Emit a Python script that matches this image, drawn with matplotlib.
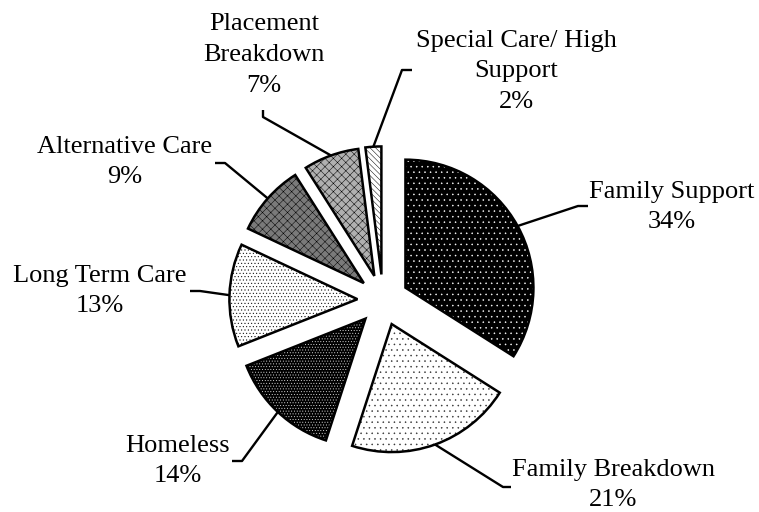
import numpy as np
import matplotlib.pyplot as plt
from matplotlib.patches import Wedge

# данные диаграммы
labels = ['Family Support', 'Family Breakdown', 'Homeless', 'Long Term Care',
          'Alternative Care', 'Placement\nBreakdown', 'Special Care/ High\nSupport']
shares = [34, 21, 14, 13, 9, 7, 2]

# оформление секторов: заливка, цвет штриховки, штриховка
faces = ['black', 'white', 'black', 'white', '#7a7a7a', '#b0b0b0', 'white']
hatch_cols = ['white', '#333333', '#dddddd', 'black', 'black', 'black', 'black']
hatches = ['...', '...', '......', '.....', 'xxxx', 'xxxx', '\\\\\\\\\\\\']

# положения подписей в пикселях (центр текста, излом, конец выноски)
PX_C, PY_C, R_PX = 383, 300, 128
text_pos = [(672, 207), (613, 485), (178, 461), (100, 291), (125, 162), (264, 55), (516, 71)]
elbows = [(578, 206), (503, 487), (242, 461), (200, 291), (225, 163), (263, 117), (402, 70)]
ends = [(588, 206), (511, 487), (232, 461), (190, 291), (215, 163), (263, 110), (412, 70)]

plt.rcParams['hatch.linewidth'] = 0.35


def to_data(p):
    return (p[0] - PX_C) / R_PX, (PY_C - p[1]) / R_PX


fig = plt.figure(figsize=(7.59, 5.12), dpi=100)
ax = fig.add_axes([0, 0, 1, 1])

wedges, _ = ax.pie(shares, startangle=90, counterclock=False, explode=[0.2] * len(shares),
                   colors=faces, wedgeprops=dict(linewidth=0))

for i, w in enumerate(wedges):
    c, r, t1, t2 = w.center, w.r, w.theta1, w.theta2
    ax.add_patch(Wedge(c, r, t1, t2, facecolor='none', edgecolor=hatch_cols[i],
                       linewidth=0, hatch=hatches[i], zorder=2))
    ax.add_patch(Wedge(c, r, t1, t2, facecolor='none', edgecolor='black',
                       linewidth=1.8, zorder=3))
    mid = np.deg2rad((t1 + t2) / 2)
    start = (c[0] + r * np.cos(mid), c[1] + r * np.sin(mid))
    e1, e2 = to_data(elbows[i]), to_data(ends[i])
    ax.plot([start[0], e1[0], e2[0]], [start[1], e1[1], e2[1]], color='black',
            linewidth=1.7, zorder=4, solid_capstyle='butt')
    tx, ty = to_data(text_pos[i])
    ax.text(tx, ty, f'{labels[i]}\n{shares[i]}%', ha='center', va='center',
            multialignment='center', fontsize=19, family='Liberation Serif',
            linespacing=1.5)

ax.set_xlim(-PX_C / R_PX, (759 - PX_C) / R_PX)
ax.set_ylim(-(512 - PY_C) / R_PX, PY_C / R_PX)
ax.axis('off')

plt.savefig('out.png', dpi=100)
